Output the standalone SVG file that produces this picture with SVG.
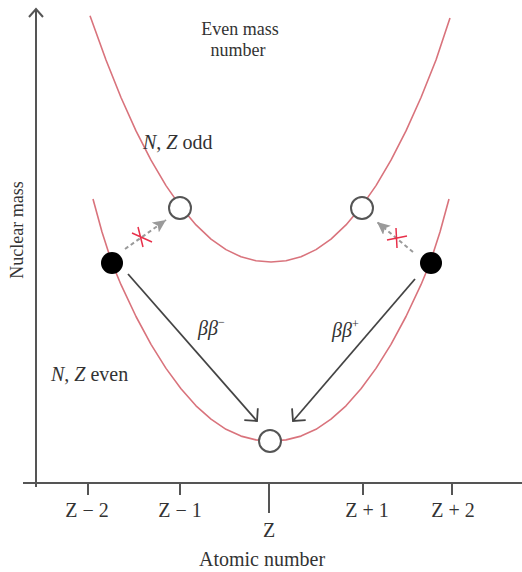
<svg xmlns="http://www.w3.org/2000/svg" width="522" height="572" viewBox="0 0 522 572">
<defs>
<style>
.t{font-family:"Liberation Serif","Times New Roman",serif;font-size:20px;fill:#333}
.s{font-size:18px}
.i{font-style:italic}
.axis{stroke:#555;stroke-width:2;fill:none}
.curve{stroke:#d9737c;stroke-width:1.6;fill:none;stroke-linejoin:round}
.open{fill:#fff;stroke:#555;stroke-width:2}
.full{fill:#000}
.solid{stroke:#444;stroke-width:1.8;fill:none}
.dash{stroke:#9a9a9a;stroke-width:2;fill:none;stroke-dasharray:4 3}
.cross{stroke:#e8304a;stroke-width:1.5;fill:none}
</style>
<marker id="chev" viewBox="0 0 20 20" refX="12" refY="10" markerWidth="20" markerHeight="20" markerUnits="userSpaceOnUse" orient="auto">
<path d="M3,1 L12,10 L3,19" fill="none" stroke="#444" stroke-width="1.8"/>
</marker>
<marker id="tri" viewBox="0 0 14 12" refX="13" refY="6" markerWidth="14" markerHeight="12" markerUnits="userSpaceOnUse" orient="auto">
<path d="M0,0 L13,6 L0,12 L3,6 z" fill="#9a9a9a"/>
</marker>
</defs>
<rect width="522" height="572" fill="#fff"/>

<g id="axes">
<path class="axis" d="M36,487 V10"/>
<path class="axis" d="M29,17 L36,9 L43,17"/>
<path class="axis" d="M23,483 H522"/>
<path class="axis" d="M88,483 V495 M180,483 V495 M269,483 V513 M363,483 V495 M452,483 V495"/>
</g>

<g id="curves">
<polyline id="odd-curve" class="curve" points="90,15.8 106,60 121,97.5 136,130.9 151,160.2 166,185.6 181,207.1 196,224.9 211,239.1 226,249.6 241,256.8 256,260.8 271,262 286,260.8 301,256.8 316,249.6 331,239.1 346,224.9 361,207.1 376,185.6 391,160.2 406,130.9 421,97.5 436,60 450,18"/>
<polyline id="even-curve" class="curve" points="93,199 102,232 112,263 121,284.7 136,316.5 151,344.3 166,368.4 181,388.8 196,405.8 211,419.2 226,429.3 241,436.1 256,439.9 271,441 286,439.9 301,436.1 316,429.3 331,419.2 346,405.8 361,388.8 376,368.4 391,344.3 406,316.5 421,284.7 430,263 440,232 449,199"/>
</g>

<g id="connectors">
<line class="solid" x1="128" y1="274" x2="257" y2="421" marker-end="url(#chev)"/>
<line class="solid" x1="415" y1="279" x2="293" y2="421" marker-end="url(#chev)"/>
<line class="dash" x1="125" y1="249" x2="166" y2="220" marker-end="url(#tri)"/>
<line class="dash" x1="413" y1="252" x2="377" y2="222" marker-end="url(#tri)"/>
<path class="cross" d="M138,227 L143,247 M132,233 L152,242"/>
<path class="cross" d="M396,228 L397,248 M387,240 L407,236"/>
</g>

<g id="node-odd-left"><circle class="open" cx="180" cy="208" r="11"/></g>
<g id="node-odd-right"><circle class="open" cx="362" cy="208" r="11"/></g>
<g id="node-even-left"><circle class="full" cx="112" cy="263" r="11"/></g>
<g id="node-even-right"><circle class="full" cx="431" cy="263" r="11"/></g>
<g id="node-even-center"><circle class="open" cx="270" cy="441" r="11"/></g>

<g id="labels">
<text class="t s" x="240" y="35" text-anchor="middle">Even mass</text>
<text class="t s" x="238" y="56" text-anchor="middle">number</text>
<text class="t" x="143" y="149"><tspan class="i">N</tspan>, <tspan class="i">Z</tspan> odd</text>
<text class="t" x="51" y="381"><tspan class="i">N</tspan>, <tspan class="i">Z</tspan> even</text>
<text class="t i" x="198" y="335">ββ<tspan font-size="12" dy="-9" font-style="normal">−</tspan></text>
<text class="t i" x="332" y="337">ββ<tspan font-size="12" dy="-9" font-style="normal">+</tspan></text>
<text class="t s" x="0" y="0" text-anchor="middle" transform="translate(23,230) rotate(-90)">Nuclear mass</text>
<text class="t" x="87" y="517" text-anchor="middle">Z − 2</text>
<text class="t" x="180" y="517" text-anchor="middle">Z − 1</text>
<text class="t" x="269" y="537" text-anchor="middle">Z</text>
<text class="t" x="367" y="517" text-anchor="middle">Z + 1</text>
<text class="t" x="453" y="517" text-anchor="middle">Z + 2</text>
<text class="t" x="262" y="566" text-anchor="middle">Atomic number</text>
</g>
</svg>
